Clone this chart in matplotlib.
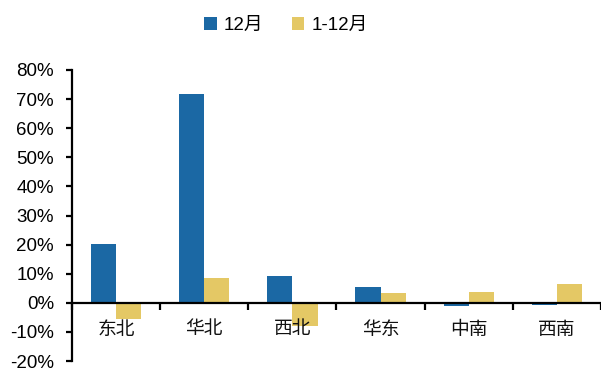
import matplotlib
matplotlib.use("Agg")
import matplotlib.pyplot as plt
import numpy as np
from matplotlib.ticker import FuncFormatter, FixedLocator

regions = ["东北", "华北", "西北", "华东", "中南", "西南"]
dec_growth = [20.3, 71.8, 9.2, 5.6, -1.2, -0.9]
ytd_growth = [-5.6, 8.4, -8.1, 3.2, 3.7, 6.4]
series_names = ["12月", "1-12月"]
yticks = list(range(-20, 81, 10))

blue = "#1B68A4"
yellow = "#E4C865"

fig = plt.figure(figsize=(6.01, 3.71), dpi=100)
ax = fig.add_axes([72 / 601, 10 / 371, 529 / 601, 291 / 371])

x = np.arange(len(regions))
w = 0.285
ax.bar(x - w / 2, dec_growth, w, color=blue, label=series_names[0], zorder=2)
ax.bar(x + w / 2, ytd_growth, w, color=yellow, label=series_names[1], zorder=2)

ax.set_xlim(-0.5, len(regions) - 0.5)
ax.set_ylim(-20, 80)

for s in ["top", "right"]:
    ax.spines[s].set_visible(False)
ax.spines["bottom"].set_position(("data", 0))
ax.spines["bottom"].set_linewidth(1.6)
ax.spines["bottom"].set_zorder(3)
ax.spines["left"].set_linewidth(1.6)

ax.yaxis.set_major_locator(FixedLocator(yticks))
ax.yaxis.set_major_formatter(FuncFormatter(lambda v, p: f"{v:.0f}%"))
ax.tick_params(axis="y", direction="out", length=4, width=1.6, pad=9,
               labelsize=13.5)
for lab in ax.get_yticklabels():
    lab.set_family(["Liberation Sans", "DejaVu Sans"])

# category ticks sit on the boundaries between groups
ax.set_xticks(np.arange(len(regions) + 1) - 0.5)
ax.set_xticklabels([])
ax.tick_params(axis="x", direction="out", length=5, width=1.6)
for i, r in enumerate(regions):
    ax.text(i, -9.0, r, ha="center", va="center", fontsize=13.5,
            family=["Noto Sans CJK SC", "DejaVu Sans"], color="#111111")

leg = fig.legend(loc="upper center", bbox_to_anchor=(0.476, 1.0), ncol=2,
                 frameon=False, handlelength=0.65, handleheight=0.65,
                 handletextpad=0.4, columnspacing=1.5,
                 prop={"family": ["Liberation Sans", "Noto Sans CJK SC"],
                       "size": 13.5})

fig.savefig("out.png", dpi=100)
